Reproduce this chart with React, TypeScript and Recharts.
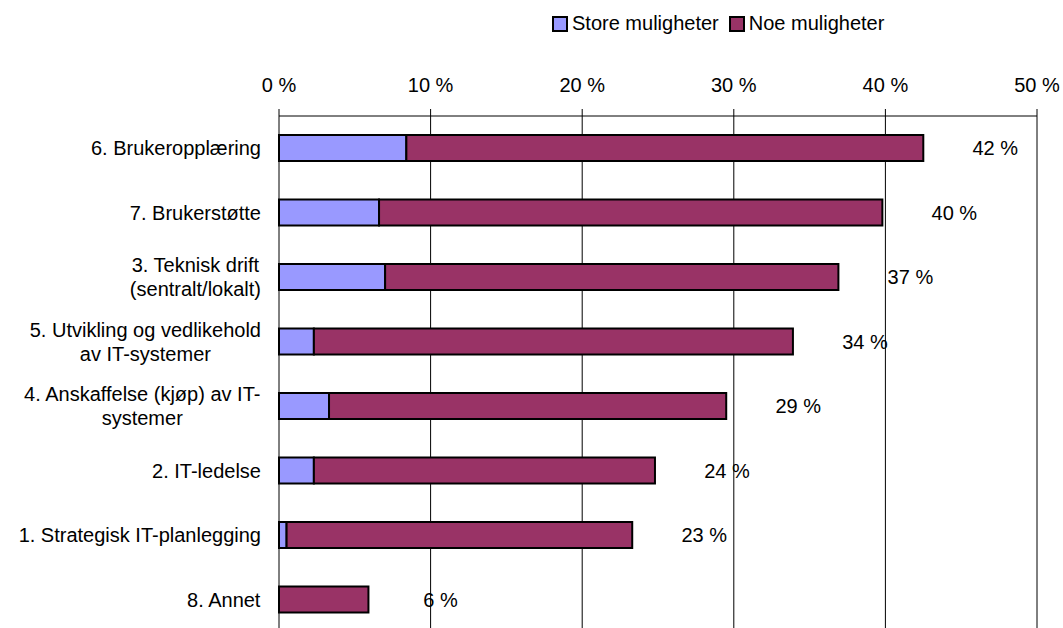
import { BarChart, Bar, XAxis, YAxis, CartesianGrid, LabelList, Legend } from "recharts"

const categories = [
  "6. Brukeropplæring",
  "7. Brukerstøtte",
  "3. Teknisk drift\n(sentralt/lokalt)",
  "5. Utvikling og vedlikehold\nav IT-systemer",
  "4. Anskaffelse (kjøp) av IT-\nsystemer",
  "2. IT-ledelse",
  "1. Strategisk IT-planlegging",
  "8. Annet",
]
const store = [8.4, 6.6, 7.0, 2.3, 3.3, 2.3, 0.5, 0]
const noe = [34.1, 33.2, 29.9, 31.6, 26.2, 22.5, 22.8, 5.9]
const totalLabels = [42, 40, 37, 34, 29, 24, 23, 6]
const xTicks = [0, 10, 20, 30, 40, 50]
const seriesOrder = ["Store muligheter", "Noe muligheter"]

const FONT = "'Liberation Sans', Arial, sans-serif"
const STORE_COLOR = "#9999FF"
const NOE_COLOR = "#993366"

const data = categories.map((name, i) => ({
  name,
  store: store[i],
  noe: noe[i],
  total: totalLabels[i],
}))

let ctx: CanvasRenderingContext2D | null = null
function measure(text: string) {
  if (!ctx) {
    ctx = document.createElement("canvas").getContext("2d")
    if (ctx) ctx.font = `20px ${FONT}`
  }
  return ctx ? ctx.measureText(text).width : text.length * 10
}

function CategoryTick(props: any) {
  const { x, y, payload } = props
  const lines = String(payload.value).split("\n")
  const maxW = Math.max(...lines.map(measure))
  const cx = x - maxW / 2
  const lineH = 24
  const y0 = y - ((lines.length - 1) * lineH) / 2
  return (
    <text textAnchor="middle" fontSize={20} fontFamily={FONT} fill="#000">
      {lines.map((l, i) => (
        <tspan key={i} x={cx} y={y0 + i * lineH} dy="0.36em">
          {l}
        </tspan>
      ))}
    </text>
  )
}

function TotalLabel(props: any) {
  const { x, y, width, height, index } = props
  return (
    <text
      x={x + width + 72}
      y={y + height / 2}
      dy="0.36em"
      textAnchor="middle"
      fontSize={20}
      fontFamily={FONT}
      fill="#000"
    >
      {`${totalLabels[index]} %`}
    </text>
  )
}

function LegendBox(props: any) {
  const items = [...(props.payload || [])].sort(
    (a: any, b: any) => seriesOrder.indexOf(a.value) - seriesOrder.indexOf(b.value)
  )
  return (
    <div style={{ display: "flex", fontFamily: FONT, fontSize: 20, color: "#000", whiteSpace: "nowrap" }}>
      {items.map((p: any, i: number) => (
        <div key={i} style={{ display: "flex", alignItems: "center", marginRight: 10 }}>
          <span
            style={{
              display: "inline-block",
              width: 12,
              height: 12,
              background: p.color,
              border: "2px solid #000",
              marginRight: 4,
            }}
          />
          <span>{p.value}</span>
        </div>
      ))}
    </div>
  )
}

export default function App() {
  return (
    <div
      style={{
        position: "fixed",
        top: 0,
        left: 0,
        width: 1063,
        height: 628,
        overflow: "hidden",
        background: "#fff",
      }}
    >
      <BarChart
        width={1063}
        height={640}
        data={data}
        layout="vertical"
        margin={{ top: 76, right: 26, bottom: 8, left: 0 }}
      >
        <CartesianGrid vertical horizontal={false} stroke="#000" />
        <XAxis
          type="number"
          orientation="top"
          domain={[0, 50]}
          ticks={xTicks}
          tickFormatter={(v) => `${v} %`}
          height={40}
          tickSize={7}
          tickMargin={17}
          axisLine={{ stroke: "#000" }}
          tickLine={{ stroke: "#000" }}
          tick={{ fontSize: 20, fontFamily: FONT, fill: "#000" }}
        />
        <YAxis
          type="category"
          dataKey="name"
          width={279}
          axisLine={false}
          tickLine={false}
          tickSize={0}
          tickMargin={18}
          interval={0}
          tick={<CategoryTick />}
        />
        <Legend
          layout="horizontal"
          verticalAlign="middle"
          align="center"
          wrapperStyle={{ position: "absolute", top: 12, left: 552, width: "auto", height: "auto" }}
          content={<LegendBox />}
        />
        <Bar
          dataKey="store"
          name="Store muligheter"
          stackId="a"
          fill={STORE_COLOR}
          stroke="#000"
          strokeWidth={2}
          barSize={26}
          isAnimationActive={false}
        />
        <Bar
          dataKey="noe"
          name="Noe muligheter"
          stackId="a"
          fill={NOE_COLOR}
          stroke="#000"
          strokeWidth={2}
          barSize={26}
          isAnimationActive={false}
        >
          <LabelList dataKey="total" content={<TotalLabel />} />
        </Bar>
      </BarChart>
    </div>
  )
}
